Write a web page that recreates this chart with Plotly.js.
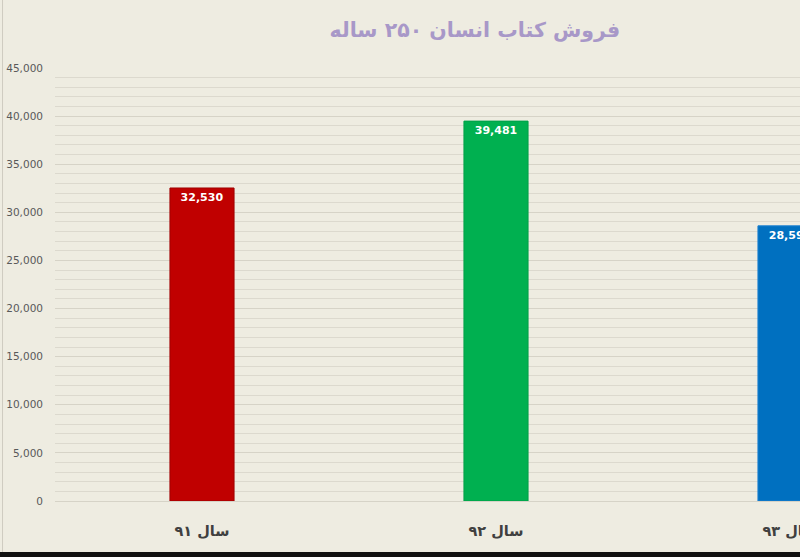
<!DOCTYPE html>
<html>
<head>
<meta charset="utf-8">
<script src="https://cdn.plot.ly/plotly-3.0.1.min.js"></script>
<style>
html, body { margin:0; padding:0; overflow:hidden; background:#eeece1; width:800px; height:557px; }
#chart { width:937px; height:557px; }
</style>
</head>
<body>
<div id="chart"></div>
<script>
const categories = ["سال ۹۱", "سال ۹۲", "سال ۹۳"];
const sales = [32530, 39481, 28595];
const barColors = ["#c00000", "#00b050", "#0070c0"];
const borderColors = ["#a00000", "#00a048", "#1a7fd0"];
const yTicks = [0, 5000, 10000, 15000, 20000, 25000, 30000, 35000, 40000, 45000];
const titleText = "فروش کتاب انسان ۲۵۰ ساله";

const trace = {
  type: "bar",
  x: categories,
  y: sales,
  width: 0.218,
  marker: { color: barColors, line: { color: borderColors, width: 1 } },
  text: sales.map(v => "<b>" + v.toLocaleString("en-US") + "</b>"),
  textposition: "inside",
  insidetextanchor: "end",
  textangle: 0,
  textfont: { family: "DejaVu Sans", size: 11, color: "#ffffff" },
  hoverinfo: "none"
};

const layout = {
  width: 937, height: 557,
  paper_bgcolor: "#eeece1",
  plot_bgcolor: "#eeece1",
  margin: { l: 55, r: 0, t: 68, b: 56, pad: 0 },
  showlegend: false,
  bargap: 0.782,
  title: {
    text: "<b>" + titleText + "</b>",
    font: { family: "DejaVu Sans", size: 20.5, color: "#a898c8" },
    x: 0.476, xref: "paper", xanchor: "center",
    y: 0.947, yref: "container", yanchor: "middle"
  },
  xaxis: {
    type: "category",
    range: [-0.5, 2.5],
    showgrid: false, zeroline: false, showline: false,
    ticks: "",
    tickfont: { family: "DejaVu Sans", size: 14.5, color: "#404040", weight: "bold" },
    ticklabelstandoff: 19
  },
  yaxis: {
    range: [0, 45000],
    tickvals: yTicks,
    ticktext: yTicks.map(v => v.toLocaleString("en-US")),
    tickfont: { family: "DejaVu Sans", size: 10.5, color: "#595959" },
    showgrid: true, gridcolor: "#d6d3c7", gridwidth: 1,
    minor: { dtick: 1000, showgrid: true, gridcolor: "#dcd9ce", gridwidth: 1 },
    zeroline: true, zerolinecolor: "#d6d3c7", zerolinewidth: 1,
    showline: false, ticks: "",
    ticklabelstandoff: 11
  },
  shapes: [
    { type: "rect", xref: "paper", yref: "paper", x0: -0.07, x1: 1.1, y0: -0.135, y1: -0.1178,
      fillcolor: "#111111", line: { width: 0 } },
    { type: "line", xref: "paper", yref: "paper", x0: -0.0595, x1: -0.0595, y0: -0.1178, y1: 1.16,
      line: { color: "#cfccc0", width: 1 } }
  ]
};

Plotly.newPlot("chart", [trace], layout, { displayModeBar: false, staticPlot: true });
</script>
</body>
</html>
